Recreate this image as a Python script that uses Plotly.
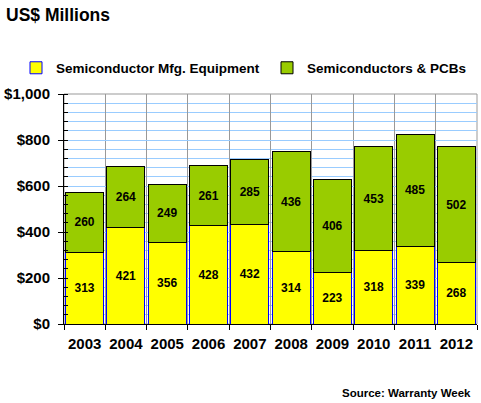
import plotly.graph_objects as go

years = ["2003", "2004", "2005", "2006", "2007", "2008", "2009", "2010", "2011", "2012"]
equipment = [313, 421, 356, 428, 432, 314, 223, 318, 339, 268]
semis_pcbs = [260, 264, 249, 261, 285, 436, 406, 453, 485, 502]

FONT = "Arial, Liberation Sans, sans-serif"
LABEL_FONT = dict(family=FONT, size=12, color="black", weight="bold")

fig = go.Figure()
fig.add_trace(go.Bar(
    x=years, y=equipment, name="Semiconductor Mfg. Equipment",
    marker=dict(color="#FFFF00", line=dict(color="#0000FF", width=1)),
    text=equipment, texttemplate="%{text}", textposition="inside", insidetextanchor="middle",
    textangle=0, constraintext="none", textfont=LABEL_FONT,
    legend="legend",
))
fig.add_trace(go.Bar(
    x=years, y=semis_pcbs, name="Semiconductors & PCBs",
    marker=dict(color="#99CC00", line=dict(color="#000000", width=1)),
    text=semis_pcbs, texttemplate="%{text}", textposition="inside", insidetextanchor="middle",
    textangle=0, constraintext="none", textfont=LABEL_FONT,
    legend="legend2",
))

LEG_FONT = dict(family=FONT, size=13.5, weight="bold", color="black")
fig.update_layout(
    width=481, height=403,
    barmode="stack", bargap=0.08,
    paper_bgcolor="white", plot_bgcolor="white",
    margin=dict(l=64, r=4, t=94, b=79, autoexpand=False),
    font=dict(family=FONT, color="black"),
    showlegend=True,
    legend=dict(
        orientation="h", xref="container", yref="container",
        x=16 / 481, y=1 - 68 / 403, xanchor="left", yanchor="middle",
        font=LEG_FONT, bgcolor="rgba(0,0,0,0)",
    ),
    legend2=dict(
        orientation="h", xref="container", yref="container",
        x=267 / 481, y=1 - 68 / 403, xanchor="left", yanchor="middle",
        font=LEG_FONT, bgcolor="rgba(0,0,0,0)",
    ),
    annotations=[
        dict(text="US$ Millions", xref="paper", yref="paper", x=-60 / 413, y=1 + (94 - 15) / 230,
             xanchor="left", yanchor="middle", showarrow=False,
             font=dict(family=FONT, size=17.5, weight="bold", color="black")),
        dict(text="Source: Warranty Week", xref="paper", yref="paper", x=1 - 4 / 413, y=-(393 - 324) / 230,
             xanchor="right", yanchor="middle", showarrow=False,
             font=dict(family=FONT, size=11.5, weight="bold", color="black")),
    ],
    shapes=[
        dict(type="rect", xref="paper", yref="paper", x0=0, y0=0, x1=1, y1=1,
             line=dict(color="#999999", width=1), layer="below"),
    ],
)

fig.update_xaxes(
    type="category", tickson="boundaries", automargin=False, tickangle=0,
    showgrid=True, gridcolor="#999999", gridwidth=1,
    showline=True, linecolor="black", linewidth=1,
    ticks="outside", ticklen=5, tickcolor="black", ticklabelstandoff=6,
    tickfont=dict(family=FONT, size=15, weight="bold", color="black"),
)
fig.update_yaxes(
    range=[0, 1000], dtick=200, tickprefix="$", tickformat=",d", automargin=False,
    showgrid=True, gridcolor="#99CCFF", gridwidth=1,
    showline=True, linecolor="black", linewidth=1,
    ticks="outside", ticklen=5, tickcolor="black", ticklabelstandoff=5,
    minor=dict(dtick=40, showgrid=True, gridcolor="#99CCFF", ticks="inside", ticklen=4, tickcolor="black"),
    tickfont=dict(family=FONT, size=15, weight="bold", color="black"),
    zeroline=False,
)

fig.write_html("out.html", config={"displayModeBar": False},
               post_script="document.body.style.margin='0';")
